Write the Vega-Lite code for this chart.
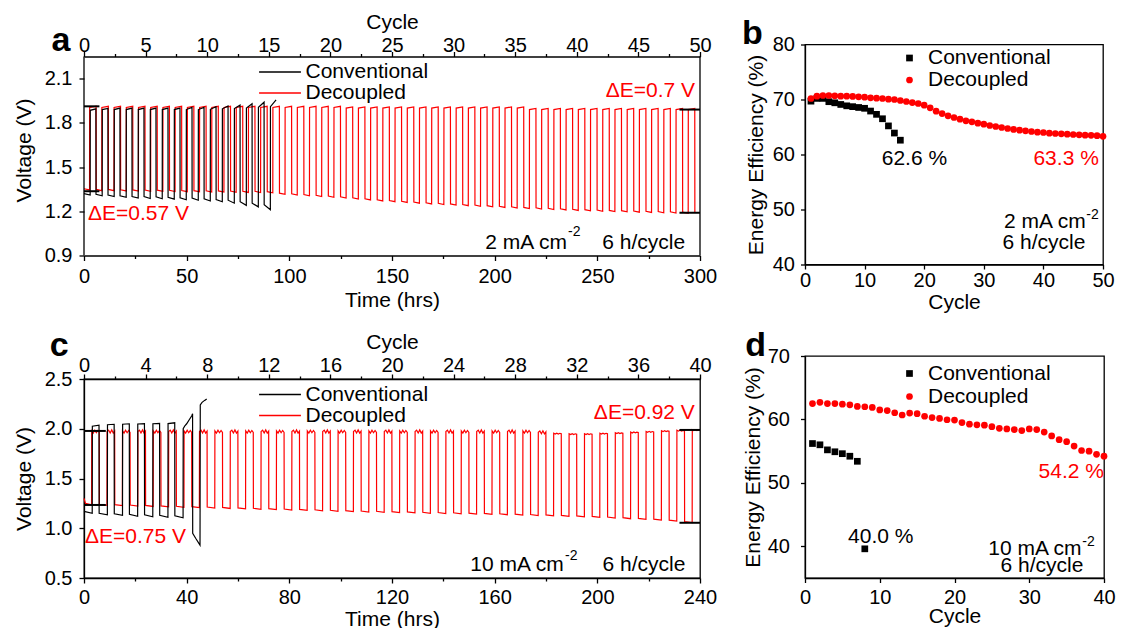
{
"$schema":"https://vega.github.io/schema/vega-lite/v6.json",
"background":"white",
"padding":{"left":12,"top":10.5,"right":5,"bottom":0},
"config":{
 "font":"Liberation Sans",
 "view":{"stroke":"#000000","strokeWidth":1.3},
 "axis":{"domainColor":"#000000","domainWidth":1.3,"tickColor":"#000000","tickWidth":1.3,"labelColor":"#000000","titleColor":"#000000","labelFontSize":20,"titleFontSize":21,"titleFontWeight":"normal","grid":false,"labelFlush":false,"labelOverlap":false},
 "legend":{"labelColor":"#000000","labelFontSize":21,"padding":0},
 "text":{"fontSize":21,"color":"#000000"}
},
"datasets":{
"aD":[{"t":0,"v":1.353},{"t":2.7,"v":1.345},{"t":2.75,"v":1.904},{"t":5.9,"v":1.912},
{"t":5.95,"v":1.348},{"t":8.65,"v":1.34},{"t":8.7,"v":1.904},{"t":11.85,"v":1.912},
{"t":11.9,"v":1.348},{"t":14.6,"v":1.34},{"t":14.65,"v":1.904},{"t":17.8,"v":1.912},
{"t":17.85,"v":1.346},{"t":20.55,"v":1.338},{"t":20.6,"v":1.904},{"t":23.75,"v":1.912},
{"t":23.8,"v":1.345},{"t":26.5,"v":1.337},{"t":26.55,"v":1.904},{"t":29.7,"v":1.912},
{"t":29.75,"v":1.344},{"t":32.45,"v":1.336},{"t":32.5,"v":1.904},{"t":35.65,"v":1.912},
{"t":35.7,"v":1.343},{"t":38.4,"v":1.335},{"t":38.45,"v":1.904},{"t":41.6,"v":1.912},
{"t":41.65,"v":1.342},{"t":44.35,"v":1.334},{"t":44.4,"v":1.904},{"t":47.55,"v":1.912},
{"t":47.6,"v":1.341},{"t":50.3,"v":1.333},{"t":50.35,"v":1.904},{"t":53.5,"v":1.912},
{"t":53.55,"v":1.34},{"t":56.25,"v":1.332},{"t":56.3,"v":1.904},{"t":59.45,"v":1.912},
{"t":59.5,"v":1.339},{"t":62.2,"v":1.331},{"t":62.25,"v":1.904},{"t":65.4,"v":1.912},
{"t":65.45,"v":1.338},{"t":68.15,"v":1.33},{"t":68.2,"v":1.904},{"t":71.35,"v":1.912},
{"t":71.4,"v":1.337},{"t":74.1,"v":1.329},{"t":74.15,"v":1.904},{"t":77.3,"v":1.912},
{"t":77.35,"v":1.336},{"t":80.05,"v":1.328},{"t":80.1,"v":1.904},{"t":83.25,"v":1.912},
{"t":83.3,"v":1.335},{"t":86,"v":1.327},{"t":86.05,"v":1.904},{"t":89.2,"v":1.912},
{"t":89.25,"v":1.333},{"t":91.95,"v":1.325},{"t":92,"v":1.904},{"t":95.15,"v":1.912},
{"t":95.2,"v":1.323},{"t":97.9,"v":1.315},{"t":97.95,"v":1.904},{"t":101.1,"v":1.912},
{"t":101.15,"v":1.318},{"t":103.85,"v":1.31},{"t":103.9,"v":1.904},{"t":107.05,"v":1.912},
{"t":107.1,"v":1.313},{"t":109.8,"v":1.305},{"t":109.85,"v":1.904},{"t":113,"v":1.912},
{"t":113.05,"v":1.308},{"t":115.75,"v":1.3},{"t":115.8,"v":1.904},{"t":118.95,"v":1.912},
{"t":119,"v":1.303},{"t":121.7,"v":1.295},{"t":121.75,"v":1.904},{"t":124.9,"v":1.912},
{"t":124.95,"v":1.298},{"t":127.65,"v":1.29},{"t":127.7,"v":1.9},{"t":130.85,"v":1.908},
{"t":130.9,"v":1.291},{"t":133.6,"v":1.283},{"t":133.65,"v":1.9},{"t":136.8,"v":1.908},
{"t":136.85,"v":1.285},{"t":139.55,"v":1.277},{"t":139.6,"v":1.9},{"t":142.75,"v":1.908},
{"t":142.8,"v":1.278},{"t":145.5,"v":1.27},{"t":145.55,"v":1.9},{"t":148.7,"v":1.908},
{"t":148.75,"v":1.273},{"t":151.45,"v":1.265},{"t":151.5,"v":1.9},{"t":154.65,"v":1.908},
{"t":154.7,"v":1.268},{"t":157.4,"v":1.26},{"t":157.45,"v":1.9},{"t":160.6,"v":1.908},
{"t":160.65,"v":1.263},{"t":163.35,"v":1.255},{"t":163.4,"v":1.9},{"t":166.55,"v":1.908},
{"t":166.6,"v":1.258},{"t":169.3,"v":1.25},{"t":169.35,"v":1.9},{"t":172.5,"v":1.908},
{"t":172.55,"v":1.254},{"t":175.25,"v":1.246},{"t":175.3,"v":1.9},{"t":178.45,"v":1.908},
{"t":178.5,"v":1.25},{"t":181.2,"v":1.242},{"t":181.25,"v":1.9},{"t":184.4,"v":1.908},
{"t":184.45,"v":1.246},{"t":187.15,"v":1.238},{"t":187.2,"v":1.9},{"t":190.35,"v":1.908},
{"t":190.4,"v":1.242},{"t":193.1,"v":1.234},{"t":193.15,"v":1.9},{"t":196.3,"v":1.908},
{"t":196.35,"v":1.238},{"t":199.05,"v":1.23},{"t":199.1,"v":1.9},{"t":202.25,"v":1.908},
{"t":202.3,"v":1.234},{"t":205,"v":1.226},{"t":205.05,"v":1.9},{"t":208.2,"v":1.908},
{"t":208.25,"v":1.23},{"t":210.95,"v":1.222},{"t":211,"v":1.9},{"t":214.15,"v":1.908},
{"t":214.2,"v":1.226},{"t":216.9,"v":1.218},{"t":216.95,"v":1.89},{"t":220.1,"v":1.898},
{"t":220.15,"v":1.223},{"t":222.85,"v":1.215},{"t":222.9,"v":1.89},{"t":226.05,"v":1.898},
{"t":226.1,"v":1.22},{"t":228.8,"v":1.212},{"t":228.85,"v":1.89},{"t":232,"v":1.898},
{"t":232.05,"v":1.217},{"t":234.75,"v":1.209},{"t":234.8,"v":1.89},{"t":237.95,"v":1.898},
{"t":238,"v":1.214},{"t":240.7,"v":1.206},{"t":240.75,"v":1.89},{"t":243.9,"v":1.898},
{"t":243.95,"v":1.211},{"t":246.65,"v":1.203},{"t":246.7,"v":1.89},{"t":249.85,"v":1.898},
{"t":249.9,"v":1.208},{"t":252.6,"v":1.2},{"t":252.65,"v":1.89},{"t":255.8,"v":1.898},
{"t":255.85,"v":1.206},{"t":258.55,"v":1.198},{"t":258.6,"v":1.89},{"t":261.75,"v":1.898},
{"t":261.8,"v":1.204},{"t":264.5,"v":1.196},{"t":264.55,"v":1.89},{"t":267.7,"v":1.898},
{"t":267.75,"v":1.202},{"t":270.45,"v":1.194},{"t":270.5,"v":1.89},{"t":273.65,"v":1.898},
{"t":273.7,"v":1.2},{"t":276.4,"v":1.192},{"t":276.45,"v":1.89},{"t":279.6,"v":1.898},
{"t":279.65,"v":1.198},{"t":282.35,"v":1.19},{"t":282.4,"v":1.89},{"t":285.55,"v":1.898},
{"t":285.6,"v":1.196},{"t":288.3,"v":1.188},{"t":288.35,"v":1.89},{"t":291.5,"v":1.898},
{"t":291.55,"v":1.194},{"t":294.25,"v":1.186},{"t":294.3,"v":1.89},{"t":297.45,"v":1.898},
{"t":297.5,"v":1.19}],
"aC":[{"t":0,"v":1.32},{"t":3,"v":1.31},{"t":3.05,"v":1.885},{"t":5.8,"v":1.895},
{"t":5.85,"v":1.315},{"t":8.85,"v":1.305},{"t":8.9,"v":1.89},{"t":11.65,"v":1.898},
{"t":11.7,"v":1.31},{"t":14.7,"v":1.3},{"t":14.75,"v":1.89},{"t":17.5,"v":1.9},
{"t":17.55,"v":1.305},{"t":20.55,"v":1.295},{"t":20.6,"v":1.89},{"t":23.35,"v":1.9},
{"t":23.4,"v":1.3},{"t":26.4,"v":1.29},{"t":26.45,"v":1.89},{"t":29.2,"v":1.9},
{"t":29.25,"v":1.3},{"t":32.25,"v":1.287},{"t":32.3,"v":1.89},{"t":35.05,"v":1.9},
{"t":35.1,"v":1.298},{"t":38.1,"v":1.285},{"t":38.15,"v":1.89},{"t":40.9,"v":1.9},
{"t":40.95,"v":1.295},{"t":43.95,"v":1.282},{"t":44,"v":1.89},{"t":46.75,"v":1.9},
{"t":46.8,"v":1.292},{"t":49.8,"v":1.278},{"t":49.85,"v":1.89},{"t":52.6,"v":1.905},
{"t":52.65,"v":1.29},{"t":55.65,"v":1.275},{"t":55.7,"v":1.89},{"t":58.45,"v":1.905},
{"t":58.5,"v":1.285},{"t":61.5,"v":1.27},{"t":61.55,"v":1.892},{"t":64.3,"v":1.91},
{"t":64.35,"v":1.28},{"t":67.35,"v":1.265},{"t":67.4,"v":1.895},{"t":70.15,"v":1.915},
{"t":70.2,"v":1.275},{"t":73.2,"v":1.255},{"t":73.25,"v":1.897},{"t":76,"v":1.92},
{"t":76.05,"v":1.265},{"t":79.05,"v":1.24},{"t":79.1,"v":1.9},{"t":81.85,"v":1.93},
{"t":81.9,"v":1.255},{"t":84.9,"v":1.23},{"t":84.95,"v":1.905},{"t":87.7,"v":1.94},
{"t":87.75,"v":1.245},{"t":90.75,"v":1.21},{"t":90.8,"v":1.91},{"t":93.55,"v":1.955}],
"aM":[{"t":0,"t2":7.5,"v":1.912},{"t":0,"t2":7.5,"v":1.336},{"t":290,"t2":300,"v":1.89},{"t":290,"t2":300,"v":1.19}],
"aF":[{"t":0,"v":0.9,"v2":2.25},{"t":300,"v":0.9,"v2":2.25}],
"cD":[{"t":0,"v":1.3},{"t":0.6,"v":1.25},{"t":2.95,"v":1.235},{"t":3,"v":1.978},{"t":3.6,"v":1.956},{"t":4.2,"v":1.986},{"t":4.8,"v":1.96},{"t":5.4,"v":1.983},{"t":5.95,"v":1.963},
{"t":6,"v":1.24},{"t":8.95,"v":1.23},{"t":9,"v":1.973},{"t":9.6,"v":1.986},{"t":10.2,"v":1.958},{"t":10.8,"v":1.988},{"t":11.4,"v":1.956},{"t":11.95,"v":1.976},
{"t":12,"v":1.237},{"t":14.95,"v":1.227},{"t":15,"v":1.978},{"t":15.6,"v":1.956},{"t":16.2,"v":1.986},{"t":16.8,"v":1.96},{"t":17.4,"v":1.983},{"t":17.95,"v":1.963},
{"t":18,"v":1.233},{"t":20.95,"v":1.223},{"t":21,"v":1.973},{"t":21.6,"v":1.986},{"t":22.2,"v":1.958},{"t":22.8,"v":1.988},{"t":23.4,"v":1.956},{"t":23.95,"v":1.976},
{"t":24,"v":1.229},{"t":26.95,"v":1.219},{"t":27,"v":1.978},{"t":27.6,"v":1.956},{"t":28.2,"v":1.986},{"t":28.8,"v":1.96},{"t":29.4,"v":1.983},{"t":29.95,"v":1.963},
{"t":30,"v":1.225},{"t":32.95,"v":1.215},{"t":33,"v":1.973},{"t":33.6,"v":1.986},{"t":34.2,"v":1.958},{"t":34.8,"v":1.988},{"t":35.4,"v":1.956},{"t":35.95,"v":1.976},
{"t":36,"v":1.221},{"t":38.95,"v":1.211},{"t":39,"v":1.978},{"t":39.6,"v":1.956},{"t":40.2,"v":1.986},{"t":40.8,"v":1.96},{"t":41.4,"v":1.983},{"t":41.95,"v":1.963},
{"t":42,"v":1.217},{"t":44.95,"v":1.207},{"t":45,"v":1.973},{"t":45.6,"v":1.986},{"t":46.2,"v":1.958},{"t":46.8,"v":1.988},{"t":47.4,"v":1.956},{"t":47.95,"v":1.976},
{"t":48,"v":1.213},{"t":50.95,"v":1.203},{"t":51,"v":1.978},{"t":51.6,"v":1.956},{"t":52.2,"v":1.986},{"t":52.8,"v":1.96},{"t":53.4,"v":1.983},{"t":53.95,"v":1.963},
{"t":54,"v":1.209},{"t":56.95,"v":1.199},{"t":57,"v":1.973},{"t":57.6,"v":1.986},{"t":58.2,"v":1.958},{"t":58.8,"v":1.988},{"t":59.4,"v":1.956},{"t":59.95,"v":1.976},
{"t":60,"v":1.205},{"t":62.95,"v":1.195},{"t":63,"v":1.978},{"t":63.6,"v":1.956},{"t":64.2,"v":1.986},{"t":64.8,"v":1.96},{"t":65.4,"v":1.983},{"t":65.95,"v":1.963},
{"t":66,"v":1.201},{"t":68.95,"v":1.191},{"t":69,"v":1.973},{"t":69.6,"v":1.986},{"t":70.2,"v":1.958},{"t":70.8,"v":1.988},{"t":71.4,"v":1.956},{"t":71.95,"v":1.976},
{"t":72,"v":1.197},{"t":74.95,"v":1.187},{"t":75,"v":1.978},{"t":75.6,"v":1.956},{"t":76.2,"v":1.986},{"t":76.8,"v":1.96},{"t":77.4,"v":1.983},{"t":77.95,"v":1.963},
{"t":78,"v":1.193},{"t":80.95,"v":1.183},{"t":81,"v":1.973},{"t":81.6,"v":1.986},{"t":82.2,"v":1.958},{"t":82.8,"v":1.988},{"t":83.4,"v":1.956},{"t":83.95,"v":1.976},
{"t":84,"v":1.189},{"t":86.95,"v":1.179},{"t":87,"v":1.978},{"t":87.6,"v":1.956},{"t":88.2,"v":1.986},{"t":88.8,"v":1.96},{"t":89.4,"v":1.983},{"t":89.95,"v":1.963},
{"t":90,"v":1.185},{"t":92.95,"v":1.175},{"t":93,"v":1.973},{"t":93.6,"v":1.986},{"t":94.2,"v":1.958},{"t":94.8,"v":1.988},{"t":95.4,"v":1.956},{"t":95.95,"v":1.976},
{"t":96,"v":1.181},{"t":98.95,"v":1.171},{"t":99,"v":1.978},{"t":99.6,"v":1.956},{"t":100.2,"v":1.986},{"t":100.8,"v":1.96},{"t":101.4,"v":1.983},{"t":101.95,"v":1.963},
{"t":102,"v":1.177},{"t":104.95,"v":1.167},{"t":105,"v":1.973},{"t":105.6,"v":1.986},{"t":106.2,"v":1.958},{"t":106.8,"v":1.988},{"t":107.4,"v":1.956},{"t":107.95,"v":1.976},
{"t":108,"v":1.173},{"t":110.95,"v":1.163},{"t":111,"v":1.978},{"t":111.6,"v":1.956},{"t":112.2,"v":1.986},{"t":112.8,"v":1.96},{"t":113.4,"v":1.983},{"t":113.95,"v":1.963},
{"t":114,"v":1.17},{"t":116.95,"v":1.16},{"t":117,"v":1.973},{"t":117.6,"v":1.986},{"t":118.2,"v":1.958},{"t":118.8,"v":1.988},{"t":119.4,"v":1.956},{"t":119.95,"v":1.976},
{"t":120,"v":1.167},{"t":122.95,"v":1.157},{"t":123,"v":1.978},{"t":123.6,"v":1.956},{"t":124.2,"v":1.986},{"t":124.8,"v":1.96},{"t":125.4,"v":1.983},{"t":125.95,"v":1.963},
{"t":126,"v":1.164},{"t":128.95,"v":1.154},{"t":129,"v":1.973},{"t":129.6,"v":1.986},{"t":130.2,"v":1.958},{"t":130.8,"v":1.988},{"t":131.4,"v":1.956},{"t":131.95,"v":1.976},
{"t":132,"v":1.161},{"t":134.95,"v":1.151},{"t":135,"v":1.978},{"t":135.6,"v":1.956},{"t":136.2,"v":1.986},{"t":136.8,"v":1.96},{"t":137.4,"v":1.983},{"t":137.95,"v":1.963},
{"t":138,"v":1.158},{"t":140.95,"v":1.148},{"t":141,"v":1.973},{"t":141.6,"v":1.986},{"t":142.2,"v":1.958},{"t":142.8,"v":1.988},{"t":143.4,"v":1.956},{"t":143.95,"v":1.976},
{"t":144,"v":1.155},{"t":146.95,"v":1.145},{"t":147,"v":1.978},{"t":147.6,"v":1.956},{"t":148.2,"v":1.986},{"t":148.8,"v":1.96},{"t":149.4,"v":1.983},{"t":149.95,"v":1.963},
{"t":150,"v":1.152},{"t":152.95,"v":1.142},{"t":153,"v":1.973},{"t":153.6,"v":1.986},{"t":154.2,"v":1.958},{"t":154.8,"v":1.988},{"t":155.4,"v":1.956},{"t":155.95,"v":1.976},
{"t":156,"v":1.149},{"t":158.95,"v":1.139},{"t":159,"v":1.978},{"t":159.6,"v":1.956},{"t":160.2,"v":1.986},{"t":160.8,"v":1.96},{"t":161.4,"v":1.983},{"t":161.95,"v":1.963},
{"t":162,"v":1.146},{"t":164.95,"v":1.136},{"t":165,"v":1.973},{"t":165.6,"v":1.986},{"t":166.2,"v":1.958},{"t":166.8,"v":1.988},{"t":167.4,"v":1.956},{"t":167.95,"v":1.976},
{"t":168,"v":1.142},{"t":170.95,"v":1.132},{"t":171,"v":1.978},{"t":171.6,"v":1.956},{"t":172.2,"v":1.986},{"t":172.8,"v":1.96},{"t":173.4,"v":1.983},{"t":173.95,"v":1.963},
{"t":174,"v":1.138},{"t":176.95,"v":1.128},{"t":177,"v":1.965},{"t":177.6,"v":1.978},{"t":178.2,"v":1.95},{"t":178.8,"v":1.98},{"t":179.4,"v":1.948},{"t":179.95,"v":1.968},
{"t":180,"v":1.134},{"t":182.95,"v":1.124},{"t":183,"v":1.955},{"t":183.6,"v":1.946},{"t":184.2,"v":1.956},{"t":184.8,"v":1.947},{"t":185.4,"v":1.954},{"t":185.95,"v":1.95},
{"t":186,"v":1.129},{"t":188.95,"v":1.119},{"t":189,"v":1.95},{"t":189.6,"v":1.941},{"t":190.2,"v":1.951},{"t":190.8,"v":1.942},{"t":191.4,"v":1.949},{"t":191.95,"v":1.945},
{"t":192,"v":1.124},{"t":194.95,"v":1.114},{"t":195,"v":1.95},{"t":195.6,"v":1.941},{"t":196.2,"v":1.951},{"t":196.8,"v":1.942},{"t":197.4,"v":1.949},{"t":197.95,"v":1.945},
{"t":198,"v":1.119},{"t":200.95,"v":1.109},{"t":201,"v":1.955},{"t":201.6,"v":1.946},{"t":202.2,"v":1.956},{"t":202.8,"v":1.947},{"t":203.4,"v":1.954},{"t":203.95,"v":1.95},
{"t":204,"v":1.113},{"t":206.95,"v":1.103},{"t":207,"v":1.96},{"t":207.6,"v":1.951},{"t":208.2,"v":1.961},{"t":208.8,"v":1.952},{"t":209.4,"v":1.959},{"t":209.95,"v":1.955},
{"t":210,"v":1.106},{"t":212.95,"v":1.096},{"t":213,"v":1.967},{"t":213.6,"v":1.958},{"t":214.2,"v":1.968},{"t":214.8,"v":1.959},{"t":215.4,"v":1.966},{"t":215.95,"v":1.962},
{"t":216,"v":1.099},{"t":218.95,"v":1.089},{"t":219,"v":1.973},{"t":219.6,"v":1.964},{"t":220.2,"v":1.974},{"t":220.8,"v":1.965},{"t":221.4,"v":1.972},{"t":221.95,"v":1.968},
{"t":222,"v":1.091},{"t":224.95,"v":1.081},{"t":225,"v":1.98},{"t":225.6,"v":1.971},{"t":226.2,"v":1.981},{"t":226.8,"v":1.972},{"t":227.4,"v":1.979},{"t":227.95,"v":1.975},
{"t":228,"v":1.081},{"t":230.95,"v":1.071},{"t":231,"v":1.985},{"t":231.6,"v":1.976},{"t":232.2,"v":1.986},{"t":232.8,"v":1.977},{"t":233.4,"v":1.984},{"t":233.95,"v":1.98},
{"t":234,"v":1.067},{"t":236.95,"v":1.057},{"t":237,"v":1.99},{"t":237.6,"v":1.981},{"t":238.2,"v":1.991},{"t":238.8,"v":1.982},{"t":239.4,"v":1.989},{"t":239.95,"v":1.985}],
"cC":[{"t":0,"v":1.17},{"t":3.2,"v":1.15},{"t":3.25,"v":2.025},{"t":5.85,"v":2.035},
{"t":5.9,"v":1.15},{"t":9.1,"v":1.135},{"t":9.15,"v":2.04},{"t":11.75,"v":2.045},
{"t":11.8,"v":1.145},{"t":15,"v":1.13},{"t":15.05,"v":2.045},{"t":17.65,"v":2.05},
{"t":17.7,"v":1.14},{"t":20.9,"v":1.12},{"t":20.95,"v":2.048},{"t":23.55,"v":2.052},
{"t":23.6,"v":1.135},{"t":26.8,"v":1.115},{"t":26.85,"v":2.05},{"t":29.45,"v":2.055},
{"t":29.5,"v":1.13},{"t":32.7,"v":1.11},{"t":32.75,"v":2.052},{"t":35.35,"v":2.06},
{"t":35.4,"v":1.125},{"t":38.6,"v":1.105},{"t":38.65,"v":2.0},{"t":39.3,"v":2.03},{"t":40,"v":2.05},{"t":41,"v":2.09},{"t":42,"v":2.13},{"t":42.3,"v":2.15},{"t":42.35,"v":0.95},{"t":43.5,"v":0.9},{"t":45.2,"v":0.83},{"t":45.3,"v":2.24},{"t":46,"v":2.265},{"t":47,"v":2.285},{"t":47.8,"v":2.3}],
"cM":[{"t":0,"t2":8.5,"v":1.978},{"t":0,"t2":8.5,"v":1.234},{"t":232,"t2":240,"v":1.988},{"t":232,"t2":240,"v":1.055}],
"bEE":[{"s":"Conventional","cycle":1,"ee":69.7},{"s":"Conventional","cycle":2,"ee":70.2},{"s":"Conventional","cycle":3,"ee":70.2},{"s":"Conventional","cycle":4,"ee":69.6},{"s":"Conventional","cycle":5,"ee":69.4},{"s":"Conventional","cycle":6,"ee":69.1},{"s":"Conventional","cycle":7,"ee":68.85},{"s":"Conventional","cycle":8,"ee":68.7},{"s":"Conventional","cycle":9,"ee":68.55},{"s":"Conventional","cycle":10,"ee":68.4},{"s":"Conventional","cycle":11,"ee":67.9},{"s":"Conventional","cycle":12,"ee":67.3},{"s":"Conventional","cycle":13,"ee":66.5},{"s":"Conventional","cycle":14,"ee":65.2},{"s":"Conventional","cycle":15,"ee":63.9},{"s":"Conventional","cycle":16,"ee":62.6},
{"s":"Decoupled","cycle":1,"ee":70.18},{"s":"Decoupled","cycle":2,"ee":70.61},{"s":"Decoupled","cycle":3,"ee":70.73},{"s":"Decoupled","cycle":4,"ee":70.73},{"s":"Decoupled","cycle":5,"ee":70.67},{"s":"Decoupled","cycle":6,"ee":70.61},{"s":"Decoupled","cycle":7,"ee":70.61},{"s":"Decoupled","cycle":8,"ee":70.55},{"s":"Decoupled","cycle":9,"ee":70.48},{"s":"Decoupled","cycle":10,"ee":70.42},{"s":"Decoupled","cycle":11,"ee":70.3},{"s":"Decoupled","cycle":12,"ee":70.24},{"s":"Decoupled","cycle":13,"ee":70.18},{"s":"Decoupled","cycle":14,"ee":70.06},{"s":"Decoupled","cycle":15,"ee":70.0},{"s":"Decoupled","cycle":16,"ee":69.82},{"s":"Decoupled","cycle":17,"ee":69.64},{"s":"Decoupled","cycle":18,"ee":69.45},{"s":"Decoupled","cycle":19,"ee":69.27},{"s":"Decoupled","cycle":20,"ee":68.97},{"s":"Decoupled","cycle":21,"ee":68.48},{"s":"Decoupled","cycle":22,"ee":67.88},{"s":"Decoupled","cycle":23,"ee":67.45},{"s":"Decoupled","cycle":24,"ee":67.03},{"s":"Decoupled","cycle":25,"ee":66.73},{"s":"Decoupled","cycle":26,"ee":66.42},{"s":"Decoupled","cycle":27,"ee":66.12},{"s":"Decoupled","cycle":28,"ee":65.94},{"s":"Decoupled","cycle":29,"ee":65.7},{"s":"Decoupled","cycle":30,"ee":65.52},{"s":"Decoupled","cycle":31,"ee":65.27},{"s":"Decoupled","cycle":32,"ee":65.09},{"s":"Decoupled","cycle":33,"ee":64.91},{"s":"Decoupled","cycle":34,"ee":64.73},{"s":"Decoupled","cycle":35,"ee":64.55},{"s":"Decoupled","cycle":36,"ee":64.42},{"s":"Decoupled","cycle":37,"ee":64.3},{"s":"Decoupled","cycle":38,"ee":64.18},{"s":"Decoupled","cycle":39,"ee":64.06},{"s":"Decoupled","cycle":40,"ee":64.0},{"s":"Decoupled","cycle":41,"ee":63.88},{"s":"Decoupled","cycle":42,"ee":63.82},{"s":"Decoupled","cycle":43,"ee":63.76},{"s":"Decoupled","cycle":44,"ee":63.7},{"s":"Decoupled","cycle":45,"ee":63.64},{"s":"Decoupled","cycle":46,"ee":63.58},{"s":"Decoupled","cycle":47,"ee":63.52},{"s":"Decoupled","cycle":48,"ee":63.48},{"s":"Decoupled","cycle":49,"ee":63.42},{"s":"Decoupled","cycle":50,"ee":63.3}],
"dEE":[{"s":"Conventional","cycle":1,"ee":56.2},{"s":"Conventional","cycle":2,"ee":56.0},{"s":"Conventional","cycle":3,"ee":55.2},{"s":"Conventional","cycle":4,"ee":54.9},{"s":"Conventional","cycle":5,"ee":54.6},{"s":"Conventional","cycle":6,"ee":54.2},{"s":"Conventional","cycle":7,"ee":53.4},{"s":"Conventional","cycle":8,"ee":39.6},
{"s":"Decoupled","cycle":1,"ee":62.5},{"s":"Decoupled","cycle":2,"ee":62.7},{"s":"Decoupled","cycle":3,"ee":62.5},{"s":"Decoupled","cycle":4,"ee":62.5},{"s":"Decoupled","cycle":5,"ee":62.4},{"s":"Decoupled","cycle":6,"ee":62.3},{"s":"Decoupled","cycle":7,"ee":62.05},{"s":"Decoupled","cycle":8,"ee":62.0},{"s":"Decoupled","cycle":9,"ee":61.9},{"s":"Decoupled","cycle":10,"ee":61.5},{"s":"Decoupled","cycle":11,"ee":61.4},{"s":"Decoupled","cycle":12,"ee":61.05},{"s":"Decoupled","cycle":13,"ee":60.7},{"s":"Decoupled","cycle":14,"ee":61.0},{"s":"Decoupled","cycle":15,"ee":60.9},{"s":"Decoupled","cycle":16,"ee":60.5},{"s":"Decoupled","cycle":17,"ee":60.3},{"s":"Decoupled","cycle":18,"ee":60.15},{"s":"Decoupled","cycle":19,"ee":59.95},{"s":"Decoupled","cycle":20,"ee":59.9},{"s":"Decoupled","cycle":21,"ee":59.5},{"s":"Decoupled","cycle":22,"ee":59.25},{"s":"Decoupled","cycle":23,"ee":59.15},{"s":"Decoupled","cycle":24,"ee":59.1},{"s":"Decoupled","cycle":25,"ee":58.85},{"s":"Decoupled","cycle":26,"ee":58.6},{"s":"Decoupled","cycle":27,"ee":58.5},{"s":"Decoupled","cycle":28,"ee":58.4},{"s":"Decoupled","cycle":29,"ee":58.25},{"s":"Decoupled","cycle":30,"ee":58.5},{"s":"Decoupled","cycle":31,"ee":58.4},{"s":"Decoupled","cycle":32,"ee":58.0},{"s":"Decoupled","cycle":33,"ee":57.4},{"s":"Decoupled","cycle":34,"ee":56.8},{"s":"Decoupled","cycle":35,"ee":56.5},{"s":"Decoupled","cycle":36,"ee":55.8},{"s":"Decoupled","cycle":37,"ee":55.1},{"s":"Decoupled","cycle":38,"ee":55.0},{"s":"Decoupled","cycle":39,"ee":54.5},{"s":"Decoupled","cycle":40,"ee":54.2}]
},
"concat":[
  {"width":616,"height":211,
   "view":{"stroke":null},
   "layer":[
    {"layer":[
     {"data":{"name":"aD"},"mark":{"type":"line","strokeWidth":1.2},
      "encoding":{
       "x":{"field":"t","type":"quantitative","scale":{"domain":[0,300],"nice":false,"zero":false},
            "axis":{"title":"Time (hrs)","values":[0,25,50,75,100,125,150,175,200,225,250,275,300],"labelExpr":"datum.value % 50 == 0 ? datum.label : ''","tickSize":{"condition":{"test":"datum.value % 50 == 0","value":5},"value":3},"labelPadding":5.5,"titlePadding":3}},
       "y":{"field":"v","type":"quantitative","scale":{"domain":[0.9,2.3314],"nice":false,"zero":false},
            "axis":{"title":"Voltage (V)","domain":false,"values":[0.9,1.05,1.2,1.35,1.5,1.65,1.8,1.95,2.1,2.25],"labelExpr":"indexof([0.9,1.2,1.5,1.8,2.1], datum.value) >= 0 ? format(datum.value, '.1f') : ''","tickSize":{"condition":{"test":"indexof([0.9,1.2,1.5,1.8,2.1], datum.value) >= 0","value":5},"value":3},"labelPadding":7,"titlePadding":10}},
       "color":{"datum":"Decoupled","type":"nominal","scale":{"domain":["Conventional","Decoupled"],"range":["#000000","#ff0000"]},
            "legend":{"orient":"none","legendX":185.5,"legendY":17,"title":null,"symbolType":"M-5,0H5","symbolSize":70,"symbolStrokeWidth":1.5,"labelFontSize":21,"labelOffset":15,"rowPadding":-6,"padding":0}}
      }},
     {"data":{"name":"aC"},"mark":{"type":"line","strokeWidth":1.2},
      "encoding":{"x":{"field":"t","type":"quantitative"},"y":{"field":"v","type":"quantitative"},"color":{"datum":"Conventional","type":"nominal"}}},
     {"data":{"name":"aF"},"mark":{"type":"rule","color":"#000000","strokeWidth":1.3},
      "encoding":{"x":{"field":"t","type":"quantitative"},"y":{"field":"v","type":"quantitative"},"y2":{"field":"v2"}}},
     {"data":{"name":"aM"},"mark":{"type":"rule","color":"#000000","strokeWidth":2},
      "encoding":{"x":{"field":"t","type":"quantitative"},"x2":{"field":"t2"},"y":{"field":"v","type":"quantitative"}}},
     {"data":{"values":[{"t":-11.2,"v":2.29,"label":"a"}]},"mark":{"type":"text","fontSize":34,"fontWeight":"bold","align":"center","baseline":"alphabetic","color":"#000000"},
      "encoding":{"x":{"field":"t","type":"quantitative"},"y":{"field":"v","type":"quantitative"},"text":{"field":"label"}}},
     {"data":{"values":[{"t":1.95,"v":1.14,"label":"ΔE=0.57 V"}]},"mark":{"type":"text","fontSize":21,"align":"left","baseline":"alphabetic","color":"#ff0000"},
      "encoding":{"x":{"field":"t","type":"quantitative"},"y":{"field":"v","type":"quantitative"},"text":{"field":"label"}}},
     {"data":{"values":[{"t":297.6,"v":1.977,"label":"ΔE=0.7 V"}]},"mark":{"type":"text","fontSize":21,"align":"right","baseline":"alphabetic","color":"#ff0000"},
      "encoding":{"x":{"field":"t","type":"quantitative"},"y":{"field":"v","type":"quantitative"},"text":{"field":"label"}}},
     {"data":{"values":[{"t":235.2,"v":0.947,"label":"2 mA cm"},{"t":292.8,"v":0.947,"label":"6 h/cycle"}]},"mark":{"type":"text","fontSize":21,"align":"right","baseline":"alphabetic","color":"#000000"},
      "encoding":{"x":{"field":"t","type":"quantitative"},"y":{"field":"v","type":"quantitative"},"text":{"field":"label"}}},
     {"data":{"values":[{"t":235.7,"v":1.031,"label":"-2"}]},"mark":{"type":"text","fontSize":14,"align":"left","baseline":"alphabetic","color":"#000000"},
      "encoding":{"x":{"field":"t","type":"quantitative"},"y":{"field":"v","type":"quantitative"},"text":{"field":"label"}}}
    ]},
    {"data":{"values":[{"c":0},{"c":50}]},"mark":{"type":"point","opacity":0},
     "encoding":{"x":{"field":"c","type":"quantitative","scale":{"domain":[0,50],"nice":false,"zero":false},
      "axis":{"orient":"top","offset":-12,"title":"Cycle","values":[0,2.5,5,7.5,10,12.5,15,17.5,20,22.5,25,27.5,30,32.5,35,37.5,40,42.5,45,47.5,50],"labelExpr":"datum.value % 5 == 0 ? datum.label : ''","tickSize":{"condition":{"test":"datum.value % 5 == 0","value":5},"value":3},"labelPadding":-4,"titlePadding":3.5}}}}
   ],
   "resolve":{"scale":{"x":"independent"}}
  },
  {"width":298,"height":220,
   "layer":[
    {"data":{"name":"bEE"},"mark":{"type":"point","filled":true,"opacity":1,"size":45,"strokeWidth":0},
     "encoding":{
      "x":{"field":"cycle","type":"quantitative","scale":{"domain":[0,50],"nice":false,"zero":false},
           "axis":{"title":"Cycle","values":[0,5,10,15,20,25,30,35,40,45,50],"labelExpr":"datum.value % 10 == 0 ? datum.label : ''","tickSize":{"condition":{"test":"datum.value % 10 == 0","value":4.5},"value":2.5},"labelPadding":1,"titlePadding":1}},
      "y":{"field":"ee","type":"quantitative","scale":{"domain":[40,80],"nice":false,"zero":false},
           "axis":{"title":"Energy Efficiency (%)","values":[40,45,50,55,60,65,70,75,80],"labelExpr":"datum.value % 10 == 0 ? datum.label : ''","tickSize":{"condition":{"test":"datum.value % 10 == 0","value":4.5},"value":2.5},"labelPadding":6,"titlePadding":6}},
      "color":{"field":"s","type":"nominal","scale":{"domain":["Conventional","Decoupled"],"range":["#000000","#ff0000"]},
           "legend":{"orient":"none","legendX":94,"legendY":3,"title":null,"labelFontSize":21,"symbolSize":45,"symbolStrokeWidth":0,"labelOffset":8,"rowPadding":0,"padding":0}},
      "shape":{"field":"s","type":"nominal","scale":{"domain":["Conventional","Decoupled"],"range":["square","circle"]},
           "legend":{"orient":"none","legendX":94,"legendY":3,"title":null,"labelFontSize":21,"symbolSize":45,"symbolStrokeWidth":0,"labelOffset":8,"rowPadding":0,"padding":0}}
     }},
    {"data":{"values":[{"cycle":-8.84,"ee":80.18,"label":"b"}]},"mark":{"type":"text","fontSize":34,"fontWeight":"bold","align":"center","baseline":"alphabetic","color":"#000000"},
     "encoding":{"x":{"field":"cycle","type":"quantitative"},"y":{"field":"ee","type":"quantitative"},"text":{"field":"label"}}},
    {"data":{"values":[{"cycle":12.87,"ee":58.05,"label":"62.6 %"}]},"mark":{"type":"text","fontSize":21,"align":"left","baseline":"alphabetic","color":"#000000"},
     "encoding":{"x":{"field":"cycle","type":"quantitative"},"y":{"field":"ee","type":"quantitative"},"text":{"field":"label"}}},
    {"data":{"values":[{"cycle":49.3,"ee":58.05,"label":"63.3 %"}]},"mark":{"type":"text","fontSize":21,"align":"right","baseline":"alphabetic","color":"#ff0000"},
     "encoding":{"x":{"field":"cycle","type":"quantitative"},"y":{"field":"ee","type":"quantitative"},"text":{"field":"label"}}},
    {"data":{"values":[{"cycle":47.1,"ee":46.55,"label":"2 mA cm"}]},"mark":{"type":"text","fontSize":21,"align":"right","baseline":"alphabetic","color":"#000000"},
     "encoding":{"x":{"field":"cycle","type":"quantitative"},"y":{"field":"ee","type":"quantitative"},"text":{"field":"label"}}},
    {"data":{"values":[{"cycle":47.2,"ee":48.2,"label":"-2"}]},"mark":{"type":"text","fontSize":14,"align":"left","baseline":"alphabetic","color":"#000000"},
     "encoding":{"x":{"field":"cycle","type":"quantitative"},"y":{"field":"ee","type":"quantitative"},"text":{"field":"label"}}},
    {"data":{"values":[{"cycle":40.1,"ee":42.9,"label":"6 h/cycle"}]},"mark":{"type":"text","fontSize":21,"align":"center","baseline":"alphabetic","color":"#000000"},
     "encoding":{"x":{"field":"cycle","type":"quantitative"},"y":{"field":"ee","type":"quantitative"},"text":{"field":"label"}}}
   ]
  },
  {"width":616,"height":199,
   "layer":[
    {"layer":[
     {"data":{"name":"cD"},"mark":{"type":"line","strokeWidth":1.2},
      "encoding":{
       "x":{"field":"t","type":"quantitative","scale":{"domain":[0,240],"nice":false,"zero":false},
            "axis":{"title":"Time (hrs)","values":[0,20,40,60,80,100,120,140,160,180,200,220,240],"labelExpr":"datum.value % 40 == 0 ? datum.label : ''","tickSize":{"condition":{"test":"datum.value % 40 == 0","value":5},"value":3},"labelPadding":4,"titlePadding":1}},
       "y":{"field":"v","type":"quantitative","scale":{"domain":[0.5,2.5],"nice":false,"zero":false},
            "axis":{"title":"Voltage (V)","values":[0.5,0.75,1,1.25,1.5,1.75,2,2.25,2.5],"labelExpr":"datum.value % 0.5 == 0 ? format(datum.value, '.1f') : ''","tickSize":{"condition":{"test":"datum.value % 0.5 == 0","value":5},"value":3},"labelPadding":7,"titlePadding":10}},
       "color":{"datum":"Decoupled","type":"nominal","scale":{"domain":["Conventional","Decoupled"],"range":["#000000","#ff0000"]},
            "legend":{"orient":"none","legendX":185.5,"legendY":5,"title":null,"symbolType":"M-5,0H5","symbolSize":70,"symbolStrokeWidth":1.5,"labelFontSize":21,"labelOffset":15,"rowPadding":-6,"padding":0}}
      }},
     {"data":{"name":"cC"},"mark":{"type":"line","strokeWidth":1.2},
      "encoding":{"x":{"field":"t","type":"quantitative"},"y":{"field":"v","type":"quantitative"},"color":{"datum":"Conventional","type":"nominal"}}},
     {"data":{"name":"cM"},"mark":{"type":"rule","color":"#000000","strokeWidth":2},
      "encoding":{"x":{"field":"t","type":"quantitative"},"x2":{"field":"t2"},"y":{"field":"v","type":"quantitative"}}},
     {"data":{"values":[{"t":-9.7,"v":2.73,"label":"c"}]},"mark":{"type":"text","fontSize":34,"fontWeight":"bold","align":"center","baseline":"alphabetic","color":"#000000"},
      "encoding":{"x":{"field":"t","type":"quantitative"},"y":{"field":"v","type":"quantitative"},"text":{"field":"label"}}},
     {"data":{"values":[{"t":0.4,"v":0.852,"label":"ΔE=0.75 V"}]},"mark":{"type":"text","fontSize":21,"align":"left","baseline":"alphabetic","color":"#ff0000"},
      "encoding":{"x":{"field":"t","type":"quantitative"},"y":{"field":"v","type":"quantitative"},"text":{"field":"label"}}},
     {"data":{"values":[{"t":238,"v":2.098,"label":"ΔE=0.92 V"}]},"mark":{"type":"text","fontSize":21,"align":"right","baseline":"alphabetic","color":"#ff0000"},
      "encoding":{"x":{"field":"t","type":"quantitative"},"y":{"field":"v","type":"quantitative"},"text":{"field":"label"}}},
     {"data":{"values":[{"t":186.9,"v":0.57,"label":"10 mA cm"},{"t":234.3,"v":0.57,"label":"6 h/cycle"}]},"mark":{"type":"text","fontSize":21,"align":"right","baseline":"alphabetic","color":"#000000"},
      "encoding":{"x":{"field":"t","type":"quantitative"},"y":{"field":"v","type":"quantitative"},"text":{"field":"label"}}},
     {"data":{"values":[{"t":187.4,"v":0.68,"label":"-2"}]},"mark":{"type":"text","fontSize":14,"align":"left","baseline":"alphabetic","color":"#000000"},
      "encoding":{"x":{"field":"t","type":"quantitative"},"y":{"field":"v","type":"quantitative"},"text":{"field":"label"}}}
    ]},
    {"data":{"values":[{"c":0},{"c":40}]},"mark":{"type":"point","opacity":0},
     "encoding":{"x":{"field":"c","type":"quantitative","scale":{"domain":[0,40],"nice":false,"zero":false},
      "axis":{"orient":"top","title":"Cycle","values":[0,2,4,6,8,10,12,14,16,18,20,22,24,26,28,30,32,34,36,38,40],"labelExpr":"datum.value % 4 == 0 ? datum.label : ''","tickSize":{"condition":{"test":"datum.value % 4 == 0","value":5},"value":3},"labelPadding":-1.5,"titlePadding":3.5}}}}
   ],
   "resolve":{"scale":{"x":"independent"}}
  },
  {"width":299,"height":222,
   "layer":[
    {"data":{"name":"dEE"},"mark":{"type":"point","filled":true,"opacity":1,"size":45,"strokeWidth":0},
     "encoding":{
      "x":{"field":"cycle","type":"quantitative","scale":{"domain":[0,40],"nice":false,"zero":false},
           "axis":{"title":"Cycle","values":[0,2.5,5,7.5,10,12.5,15,17.5,20,22.5,25,27.5,30,32.5,35,37.5,40],"labelExpr":"datum.value % 5 == 0 ? datum.label : ''","tickSize":{"condition":{"test":"datum.value % 5 == 0","value":4.5},"value":2.5},"labelPadding":5,"titlePadding":-2}},
      "y":{"field":"ee","type":"quantitative","scale":{"domain":[35,70],"nice":false,"zero":false},
           "axis":{"title":"Energy Efficiency (%)","values":[40,45,50,55,60,65,70],"labelExpr":"datum.value % 10 == 0 ? datum.label : ''","tickSize":{"condition":{"test":"datum.value % 10 == 0","value":4.5},"value":2.5},"labelPadding":11,"titlePadding":3.5}},
      "color":{"field":"s","type":"nominal","scale":{"domain":["Conventional","Decoupled"],"range":["#000000","#ff0000"]},
           "legend":{"orient":"none","legendX":94,"legendY":7,"title":null,"labelFontSize":21,"symbolSize":45,"symbolStrokeWidth":0,"labelOffset":8,"rowPadding":1,"padding":0}},
      "shape":{"field":"s","type":"nominal","scale":{"domain":["Conventional","Decoupled"],"range":["square","circle"]},
           "legend":{"orient":"none","legendX":94,"legendY":7,"title":null,"labelFontSize":21,"symbolSize":45,"symbolStrokeWidth":0,"labelOffset":8,"rowPadding":1,"padding":0}}
     }},
    {"data":{"values":[{"cycle":-6.6,"ee":70.0,"label":"d"}]},"mark":{"type":"text","fontSize":34,"fontWeight":"bold","align":"center","baseline":"alphabetic","color":"#000000"},
     "encoding":{"x":{"field":"cycle","type":"quantitative"},"y":{"field":"ee","type":"quantitative"},"text":{"field":"label"}}},
    {"data":{"values":[{"cycle":40,"ee":50.8,"label":"54.2 %"}]},"mark":{"type":"text","fontSize":21,"align":"right","baseline":"alphabetic","color":"#ff0000"},
     "encoding":{"x":{"field":"cycle","type":"quantitative"},"y":{"field":"ee","type":"quantitative"},"text":{"field":"label"}}},
    {"data":{"values":[{"cycle":5.76,"ee":40.5,"label":"40.0 %"}]},"mark":{"type":"text","fontSize":21,"align":"left","baseline":"alphabetic","color":"#000000"},
     "encoding":{"x":{"field":"cycle","type":"quantitative"},"y":{"field":"ee","type":"quantitative"},"text":{"field":"label"}}},
    {"data":{"values":[{"cycle":37.0,"ee":38.67,"label":"10 mA cm"}]},"mark":{"type":"text","fontSize":21,"align":"right","baseline":"alphabetic","color":"#000000"},
     "encoding":{"x":{"field":"cycle","type":"quantitative"},"y":{"field":"ee","type":"quantitative"},"text":{"field":"label"}}},
    {"data":{"values":[{"cycle":37.1,"ee":40.1,"label":"-2"}]},"mark":{"type":"text","fontSize":14,"align":"left","baseline":"alphabetic","color":"#000000"},
     "encoding":{"x":{"field":"cycle","type":"quantitative"},"y":{"field":"ee","type":"quantitative"},"text":{"field":"label"}}},
    {"data":{"values":[{"cycle":31.7,"ee":35.9,"label":"6 h/cycle"}]},"mark":{"type":"text","fontSize":21,"align":"center","baseline":"alphabetic","color":"#000000"},
     "encoding":{"x":{"field":"cycle","type":"quantitative"},"y":{"field":"ee","type":"quantitative"},"text":{"field":"label"}}}
   ]
  }
],
"columns":2,
"align":{"row":"none","column":"each"},
"bounds":"full",
"spacing":{"row":14.5,"column":23},
"resolve":{"scale":{"color":"independent","shape":"independent"}}
}
